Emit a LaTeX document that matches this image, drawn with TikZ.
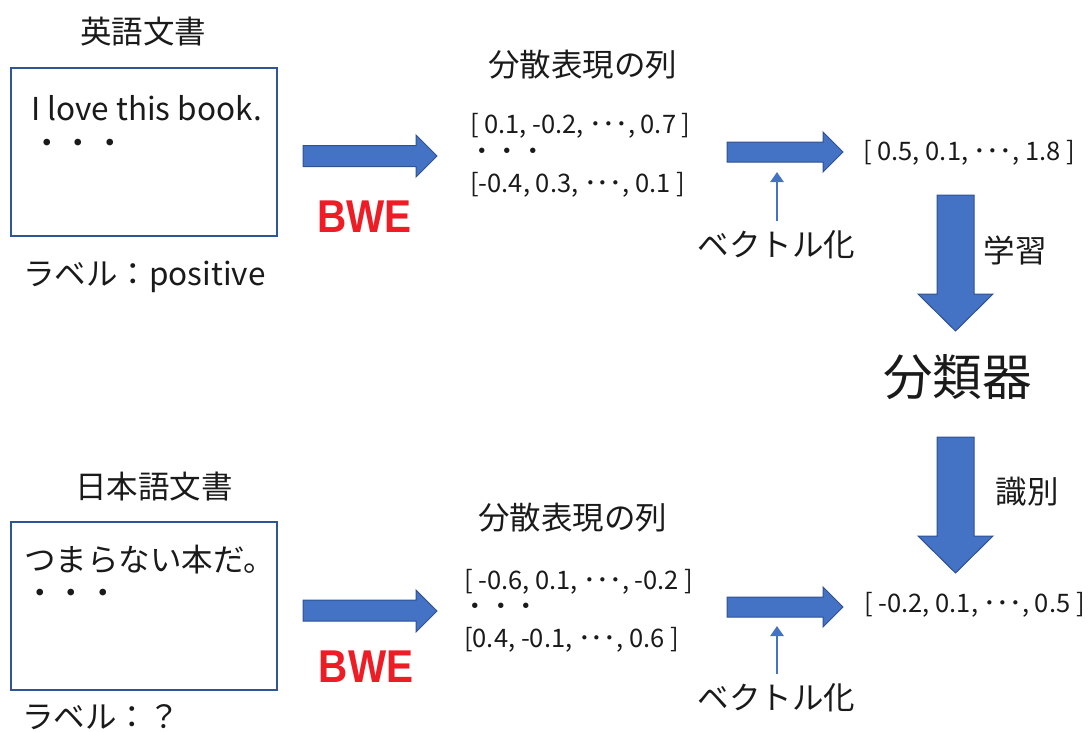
\documentclass[tikz,border=0pt]{standalone}
\usepackage{fontspec}
\setmainfont{Noto Sans CJK JP}
\newfontfamily\bwefont{Liberation Sans}[FakeStretch=0.88]
\usetikzlibrary{arrows.meta}
\definecolor{arrowblue}{HTML}{4472C4}
\definecolor{arrowedge}{HTML}{2F528F}
\definecolor{boxedge}{HTML}{2F5597}
\definecolor{bwered}{HTML}{EE1C25}
\definecolor{txt}{HTML}{1A1A1A}
\tikzset{
  lbl/.style={inner sep=0pt, text=txt, font=\fontsize{31.5}{36}\selectfont},
  vec/.style={inner sep=0pt, text=txt, font=\fontsize{25.5}{30}\selectfont},
  bwe/.style={inner sep=0pt, text=bwered, font=\bwefont\bfseries\fontsize{46}{50}\selectfont},
  docbox/.style={draw=boxedge, line width=1.4pt, inner sep=0pt},
  fatarrow/.style={fill=arrowblue, draw=arrowedge, line width=1pt, line join=miter},
  thinarrow/.style={draw=arrowblue, line width=2.8pt, -{Triangle[length=10pt,width=13pt]}}
}
\begin{document}
\begin{tikzpicture}[x=1pt,y=-1pt]
\useasboundingbox (0,0) rectangle (1089,731);
% ---------- top row ----------
\node[lbl] (entitle) at (143,32) {英語文書};
\node[docbox, minimum width=266pt, minimum height=168pt] (enbox) at (144,152) {};
\node[lbl, anchor=west] (entext) at (31,108) {I love this book.};
\node[lbl] (endots) at (78.5,147) {・・・};
\node[lbl] (enlabel) at (144.5,277) {ラベル：positive};
\path[fatarrow] (303,145.5) -- (416,145.5) -- (416,135) -- (437,156) -- (416,177) -- (416,166.5) -- (303,166.5) -- cycle;
\node[bwe] (bwe1) at (364.5,217) {BWE};
\node[lbl] (dist1) at (582.5,65) {分散表現の列};
\node[vec, anchor=west] (v1a) at (470,126) {[ 0.1, -0.2, ･･･, 0.7 ]};
\node[vec] (v1dots) at (507.5,154) {・・・};
\node[vec, anchor=west] (v1b) at (470,185) {[-0.4, 0.3, ･･･, 0.1 ]};
\path[fatarrow] (727,142) -- (823,142) -- (823,132) -- (843,152) -- (823,172) -- (823,162) -- (727,162) -- cycle;
\node[lbl] (vect1) at (776.5,245) {ベクトル化};
\coordinate (vect1top) at (777,221);
\coordinate (arr2bot) at (777,172);
\draw[thinarrow] (vect1top) -- (arr2bot);
\node[vec] (res1) at (969,153) {[ 0.5, 0.1, ･･･, 1.8 ]};
\path[fatarrow] (937,195) -- (974,195) -- (974,294) -- (993,294) -- (955.5,331) -- (918,294) -- (937,294) -- cycle;
\node[lbl] (learn) at (1015,250) {学習};
\node[inner sep=0pt, text=txt, font=\fontsize{49.5}{55}\selectfont] (clf) at (957.5,377) {分類器};
\path[fatarrow] (937,437) -- (974,437) -- (974,536) -- (993,536) -- (955.5,573) -- (918,536) -- (937,536) -- cycle;
\node[lbl] (ident) at (1027,492) {識別};
% ---------- bottom row ----------
\node[lbl] (jatitle) at (154,487) {日本語文書};
\node[docbox, minimum width=266pt, minimum height=168pt] (jabox) at (144,606) {};
\node[lbl, anchor=west] (jatext) at (24,560) {つまらない本だ。};
\node[lbl] (jadots) at (71.5,597) {・・・};
\node[lbl, anchor=west] (jalabel) at (22,717) {ラベル：？};
\path[fatarrow] (303,600) -- (416,600) -- (416,590) -- (437,611) -- (416,632) -- (416,621) -- (303,621) -- cycle;
\node[bwe] (bwe2) at (366,667) {BWE};
\node[lbl] (dist2) at (572.5,518) {分散表現の列};
\node[vec, anchor=west] (v2a) at (464,582) {[ -0.6, 0.1, ･･･, -0.2 ]};
\node[vec] (v2dots) at (501,609) {・・・};
\node[vec, anchor=west] (v2b) at (464,640) {[0.4, -0.1, ･･･, 0.6 ]};
\path[fatarrow] (727,597) -- (823,597) -- (823,587) -- (843,607) -- (823,627) -- (823,617) -- (727,617) -- cycle;
\node[lbl] (vect2) at (776.5,698) {ベクトル化};
\coordinate (vect2top) at (777,674);
\coordinate (arr4bot) at (777,626);
\draw[thinarrow] (vect2top) -- (arr4bot);
\node[vec] (res2) at (974.5,605) {[ -0.2, 0.1, ･･･, 0.5 ]};
\end{tikzpicture}
\end{document}
